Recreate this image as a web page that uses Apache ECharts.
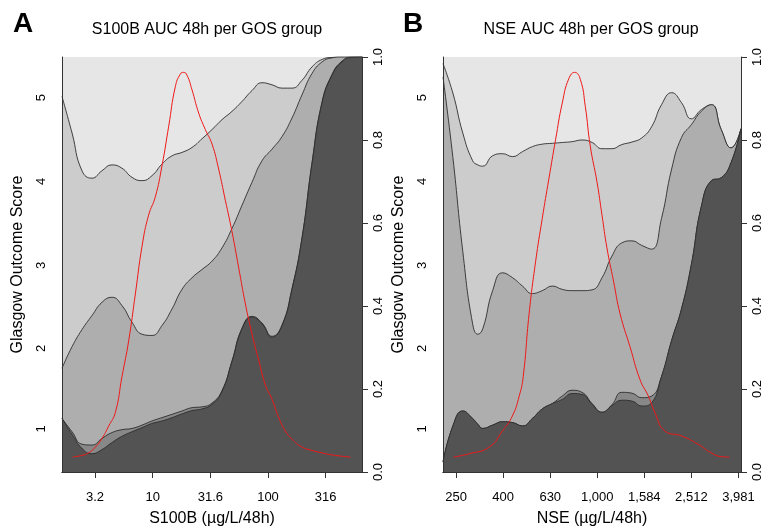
<!DOCTYPE html>
<html>
<head>
<meta charset="utf-8">
<script src="https://cdn.jsdelivr.net/npm/echarts@6/dist/echarts.min.js"></script>
<style>
html, body { margin: 0; padding: 0; background: #fff; }
#chart { width: 764px; height: 532px; }
</style>
</head>
<body>
<div id="chart"></div>
<script>
// GOS label positions (cumulative share midpoints)
var gosLabels = ['1', '2', '3', '4', '5'];
var gosLabelPos = [0.104, 0.298, 0.498, 0.700, 0.902];

// ---- panel A : S100B, x in log10(µg/L/48h)
var s100bTicks = [0.5, 1, 1.5, 2, 2.5];
var s100bTickLabels = ['3.2', '10', '31.6', '100', '316'];
var s100bX = [0.214, 0.301, 0.387, 0.474, 0.561, 0.647, 0.734, 0.821, 0.908, 0.994, 1.081, 1.168, 1.254, 1.341, 1.428, 1.514,
  1.601, 1.688, 1.775, 1.861, 1.948, 2.035, 2.121, 2.208, 2.295, 2.381, 2.468, 2.555, 2.641, 2.728, 2.815];
// cumulative P(GOS <= k | x)
var s100bUpTo1 = [0.129, 0.091, 0.057, 0.044, 0.054, 0.071, 0.086, 0.097, 0.107, 0.117, 0.123, 0.131, 0.140, 0.148, 0.152, 0.163,
  0.194, 0.266, 0.345, 0.373, 0.357, 0.325, 0.352, 0.440, 0.563, 0.742, 0.889, 0.956, 0.988, 0.999, 1];
var s100bUpTo2 = [0.129, 0.097, 0.067, 0.065, 0.081, 0.095, 0.102, 0.105, 0.113, 0.123, 0.131, 0.139, 0.147, 0.155, 0.157, 0.166,
  0.196, 0.268, 0.347, 0.375, 0.359, 0.327, 0.354, 0.442, 0.565, 0.744, 0.891, 0.958, 0.990, 1, 1];
var s100bUpTo3 = [0.250, 0.302, 0.343, 0.377, 0.409, 0.421, 0.401, 0.361, 0.332, 0.329, 0.353, 0.393, 0.440, 0.468, 0.488, 0.508,
  0.540, 0.587, 0.643, 0.698, 0.750, 0.778, 0.808, 0.853, 0.909, 0.960, 0.988, 0.998, 1, 1, 1];
var s100bUpTo4 = [0.905, 0.817, 0.726, 0.708, 0.726, 0.740, 0.732, 0.710, 0.702, 0.714, 0.742, 0.762, 0.770, 0.782, 0.803, 0.825,
  0.849, 0.869, 0.893, 0.919, 0.938, 0.933, 0.925, 0.925, 0.944, 0.976, 0.994, 0.999, 1, 1, 1];
var s100bDensX = [0.306, 0.387, 0.445, 0.503, 0.561, 0.619, 0.676, 0.734, 0.792, 0.850, 0.908, 0.965, 1.023, 1.081, 1.139, 1.197,
  1.240, 1.269, 1.298, 1.341, 1.399, 1.457, 1.515, 1.572, 1.630, 1.688, 1.746, 1.804, 1.861, 1.919, 1.977, 2.035, 2.093, 2.150,
  2.208, 2.295, 2.382, 2.468, 2.584, 2.714];
var s100bDens = [0.036, 0.040, 0.046, 0.060, 0.081, 0.111, 0.143, 0.230, 0.316, 0.429, 0.544, 0.619, 0.663, 0.738, 0.833, 0.929,
  0.959, 0.963, 0.956, 0.921, 0.865, 0.825, 0.790, 0.730, 0.655, 0.579, 0.492, 0.405, 0.333, 0.270, 0.210, 0.175, 0.131, 0.099,
  0.079, 0.060, 0.052, 0.046, 0.040, 0.036];

// ---- panel B : NSE, x in log10(µg/L/48h)
var nseTicks = [2.4, 2.6, 2.8, 3.0, 3.2, 3.4, 3.6];
var nseTickLabels = ['250', '400', '630', '1,000', '1,584', '2,512', '3,981'];
var nseX = [2.344, 2.386, 2.428, 2.470, 2.492, 2.513, 2.555, 2.597, 2.640, 2.682, 2.724, 2.766, 2.809, 2.851, 2.893, 2.935, 2.978,
  3.020, 3.062, 3.104, 3.147, 3.189, 3.231, 3.273, 3.316, 3.358, 3.400, 3.442, 3.485, 3.527, 3.569, 3.611];
var nseUpTo1 = [0.024, 0.111, 0.147, 0.129, 0.115, 0.105, 0.113, 0.121, 0.119, 0.111, 0.129, 0.152, 0.165, 0.175, 0.189, 0.187, 0.163,
  0.144, 0.160, 0.173, 0.171, 0.159, 0.167, 0.230, 0.317, 0.393, 0.500, 0.639, 0.702, 0.709, 0.746, 0.827];
var nseUpTo2 = [0.024, 0.111, 0.147, 0.129, 0.115, 0.105, 0.113, 0.121, 0.119, 0.111, 0.129, 0.152, 0.165, 0.183, 0.197, 0.192, 0.165,
  0.144, 0.162, 0.192, 0.190, 0.179, 0.183, 0.230, 0.317, 0.393, 0.500, 0.639, 0.702, 0.709, 0.746, 0.827];
var nseUpTo3 = [0.952, 0.758, 0.532, 0.357, 0.332, 0.345, 0.437, 0.480, 0.468, 0.448, 0.430, 0.437, 0.448, 0.440, 0.437, 0.437, 0.439,
  0.468, 0.520, 0.552, 0.557, 0.546, 0.537, 0.611, 0.730, 0.806, 0.837, 0.869, 0.885, 0.825, 0.781, 0.827];
var nseUpTo4 = [0.984, 0.913, 0.817, 0.750, 0.740, 0.737, 0.762, 0.767, 0.760, 0.772, 0.784, 0.790, 0.792, 0.794, 0.796, 0.800, 0.794,
  0.779, 0.779, 0.789, 0.795, 0.805, 0.832, 0.885, 0.914, 0.890, 0.851, 0.873, 0.885, 0.825, 0.781, 0.827];
var nseDensX = [2.389, 2.456, 2.541, 2.597, 2.639, 2.668, 2.685, 2.710, 2.738, 2.766, 2.794, 2.823, 2.851, 2.879, 2.904, 2.928,
  2.949, 2.970, 2.999, 3.020, 3.041, 3.069, 3.097, 3.139, 3.182, 3.217, 3.245, 3.287, 3.358, 3.428, 3.485, 3.527, 3.562];
var nseDens = [0.036, 0.044, 0.060, 0.099, 0.135, 0.183, 0.230, 0.381, 0.508, 0.611, 0.706, 0.802, 0.889, 0.948, 0.963, 0.946,
  0.881, 0.786, 0.698, 0.619, 0.540, 0.460, 0.381, 0.302, 0.222, 0.183, 0.143, 0.099, 0.087, 0.067, 0.046, 0.037, 0.036];

var FONT = '"Liberation Sans", Arial, Helvetica, sans-serif';
var bandColors = ['#535353', '#888888', '#aeaeae', '#cccccc']; // GOS 1..4, GOS 5 = grid background
var frame = { show: true, lineStyle: { color: '#333', width: 1 } };

function pairs(xs, ys) {
  return xs.map(function (x, i) { return [x, ys[i]]; });
}

function band(g, xs, ys, color, z) {
  return {
    type: 'line', xAxisIndex: g * 2, yAxisIndex: g * 2,
    data: pairs(xs, ys), smooth: 0.5, symbol: 'none', silent: true, z: z,
    lineStyle: { color: '#2e2e2e', width: 0.9 },
    areaStyle: { color: color, opacity: 1, origin: 'start' }
  };
}

function density(g, xs, ys) {
  return {
    type: 'line', xAxisIndex: g * 2, yAxisIndex: g * 2,
    data: pairs(xs, ys), smooth: 0.5, symbol: 'none', silent: true, z: 8,
    lineStyle: { color: '#f01818', width: 1 }
  };
}

function xAxes(g, min, max, ticks, labels, name) {
  return [{
    gridIndex: g, type: 'value', min: min, max: max, position: 'bottom', z: 10,
    axisLine: frame, splitLine: { show: false },
    axisTick: { show: true, customValues: ticks, length: 6, lineStyle: { color: '#333' } },
    axisLabel: {
      customValues: ticks, margin: 19, fontSize: 13, color: '#000', fontFamily: FONT,
      formatter: function (v) { return labels[ticks.indexOf(v)]; }
    },
    name: name, nameLocation: 'middle', nameGap: 39,
    nameTextStyle: { fontSize: 16, color: '#000', fontFamily: FONT }
  }, {
    gridIndex: g, type: 'value', min: min, max: max, position: 'top', z: 10,
    axisLine: frame, axisTick: { show: false }, axisLabel: { show: false }, splitLine: { show: false }
  }];
}

function yAxes(g) {
  return [{
    gridIndex: g, type: 'value', min: 0, max: 1, position: 'left', z: 10,
    axisLine: frame, axisTick: { show: false }, splitLine: { show: false },
    axisLabel: {
      customValues: gosLabelPos, rotate: 90, margin: 14, fontSize: 13, color: '#000', fontFamily: FONT,
      formatter: function (v) { return gosLabels[gosLabelPos.indexOf(v)]; }
    },
    name: 'Glasgow Outcome Score', nameLocation: 'middle', nameRotate: 90, nameGap: 36,
    nameTextStyle: { fontSize: 16, color: '#000', fontFamily: FONT }
  }, {
    gridIndex: g, type: 'value', min: 0, max: 1, interval: 0.2, position: 'right', z: 10,
    axisLine: frame, splitLine: { show: false },
    axisTick: { show: true, length: 6, lineStyle: { color: '#333' } },
    axisLabel: {
      rotate: 90, margin: 10, fontSize: 13, color: '#000', fontFamily: FONT,
      formatter: function (v) { return v.toFixed(1); }
    }
  }];
}

var chart = echarts.init(document.getElementById('chart'), null, { renderer: 'canvas' });

chart.setOption({
  animation: false,
  backgroundColor: '#fff',
  grid: [
    { left: 62, top: 57, width: 300, height: 420, show: true, backgroundColor: '#e6e6e6', borderWidth: 0 },
    { left: 443, top: 57, width: 300, height: 420, show: true, backgroundColor: '#e6e6e6', borderWidth: 0 }
  ],
  xAxis: xAxes(0, 0.214, 2.815, s100bTicks, s100bTickLabels, 'S100B (µg/L/48h)')
    .concat(xAxes(1, 2.344, 3.611, nseTicks, nseTickLabels, 'NSE (µg/L/48h)')),
  yAxis: yAxes(0).concat(yAxes(1)),
  graphic: [
    { type: 'text', x: 13, y: 24, style: { text: 'A', font: 'bold 28px ' + FONT, fill: '#000', verticalAlign: 'middle' } },
    { type: 'text', x: 403, y: 24, style: { text: 'B', font: 'bold 28px ' + FONT, fill: '#000', verticalAlign: 'middle' } },
    { type: 'text', x: 207, y: 29.5, style: { text: 'S100B AUC 48h per GOS group', font: '16px ' + FONT, fill: '#000', align: 'center', verticalAlign: 'middle' } },
    { type: 'text', x: 591, y: 29.5, style: { text: 'NSE AUC 48h per GOS group', font: '16px ' + FONT, fill: '#000', align: 'center', verticalAlign: 'middle' } }
  ],
  series: [
    band(0, s100bX, s100bUpTo4, bandColors[3], 2),
    band(0, s100bX, s100bUpTo3, bandColors[2], 3),
    band(0, s100bX, s100bUpTo2, bandColors[1], 4),
    band(0, s100bX, s100bUpTo1, bandColors[0], 5),
    density(0, s100bDensX, s100bDens),
    band(1, nseX, nseUpTo4, bandColors[3], 2),
    band(1, nseX, nseUpTo3, bandColors[2], 3),
    band(1, nseX, nseUpTo2, bandColors[1], 4),
    band(1, nseX, nseUpTo1, bandColors[0], 5),
    density(1, nseDensX, nseDens)
  ]
});
</script>
</body>
</html>
